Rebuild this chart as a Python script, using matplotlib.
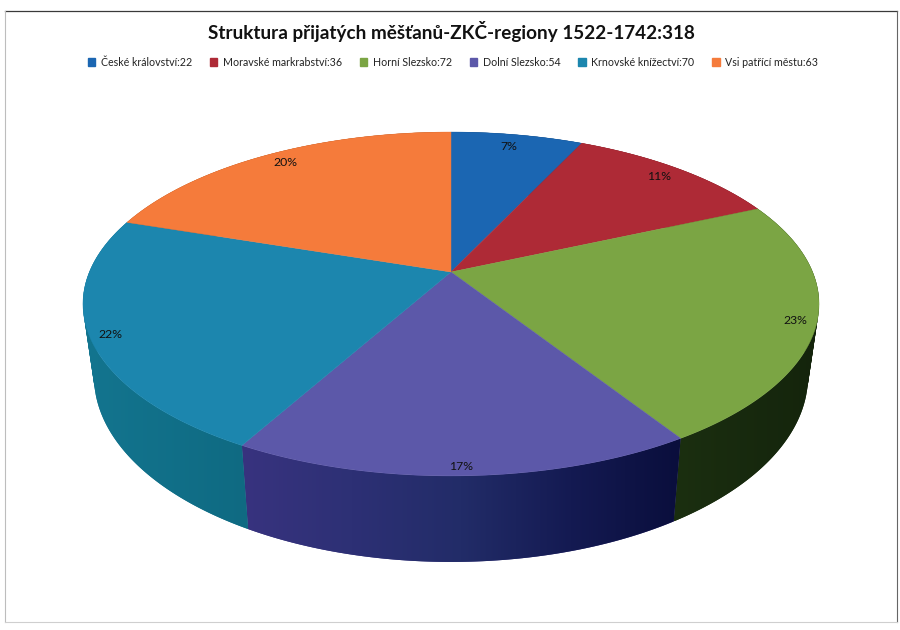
import numpy as np
import matplotlib
matplotlib.use("Agg")
import matplotlib.pyplot as plt
from matplotlib.colors import LinearSegmentedColormap
from matplotlib.patches import Patch, PathPatch
from matplotlib.path import Path

title = "Struktura přijatých měšťanů-ZKČ-regiony 1522-1742:318"
categories = ["České království", "Moravské markrabství", "Horní Slezsko",
              "Dolní Slezsko", "Krnovské knížectví", "Vsi patřící městu"]
values = [22, 36, 72, 54, 70, 63]

colors = ["#1B66B2", "#AE2A36", "#7BA544", "#5C58A9", "#1C86AE", "#F57B3B"]
side_colors = [["#0f3c6a", "#0f3c6a"], ["#6a1a20", "#6a1a20"], ["#1b2f10", "#14240c"],
               ["#38337f", "#2d3075", "#222c68", "#141a52", "#0a0e3c"],
               ["#13758f", "#0f6a82"], ["#a0501f", "#a0501f"]]
label_xy = [(509, 146), (659, 176), (795, 321), (461, 466), (110, 335), (285, 163)]

# projection of the pie disc to the page
CX, CY, R, A, K = 451, 272, 361.6, 166, 0.186
DEPTH, SHRINK = 70, 0.97


def top(theta):
    u, v = np.sin(theta), np.cos(theta)
    d = 1 + K * v
    return CX + R * u / d, CY - A * v / d


def bottom(theta):
    x, y = top(theta)
    return CX + (x - CX) * SHRINK, y + DEPTH / (1 + K * np.cos(theta))


def swept_path(ts):
    """Outline swept by the rim from the top face to the bottom face."""
    xt, yt = top(ts)
    xb, yb = bottom(ts)
    verts, codes = [], []
    for j in range(len(ts) - 1):
        q = np.array([[xt[j], yt[j]], [xt[j + 1], yt[j + 1]],
                      [xb[j + 1], yb[j + 1]], [xb[j], yb[j]]])
        area = np.sum(q[:, 0] * np.roll(q[:, 1], -1) - np.roll(q[:, 0], -1) * q[:, 1])
        if area < 0:
            q = q[::-1]
        verts += [*q, q[0]]
        codes += [Path.MOVETO, Path.LINETO, Path.LINETO, Path.LINETO, Path.CLOSEPOLY]
    return Path(np.array(verts), codes)


plt.rcParams["font.family"] = "Lato"
fig = plt.figure(figsize=(9, 6.3), dpi=100, facecolor="white")
ax = fig.add_axes([0, 0, 1, 1])
ax.set_xlim(0, 900)
ax.set_ylim(630, 0)
ax.axis("off")

# scanned page frame
ax.plot([5, 897], [10.5, 10.5], color="#3a3a3a", lw=0.9)
ax.plot([897, 897], [10.5, 622], color="#666666", lw=0.8)
ax.plot([5, 5], [10.5, 622], color="#bdbdbd", lw=0.8)
ax.plot([5, 897], [622, 622], color="#cfcfcf", lw=0.8)

fractions = np.array(values, dtype=float) / sum(values)
edges = np.concatenate([[0], np.cumsum(fractions)]) * 2 * np.pi

# side wall, a horizontal gradient clipped to each slice's rim
for i, stops in enumerate(side_colors):
    ts = np.linspace(edges[i], edges[i + 1], 160)
    path = swept_path(ts)
    patch = PathPatch(path, fc=stops[0], ec="none", lw=0, zorder=2)
    ax.add_patch(patch)
    xmin, ymin = path.vertices.min(axis=0)
    xmax, ymax = path.vertices.max(axis=0)
    cmap = LinearSegmentedColormap.from_list(f"side{i}", stops)
    im = ax.imshow(np.linspace(0, 1, 256)[None, :], cmap=cmap, aspect="auto", zorder=2.1,
                   extent=(xmin, xmax, ymax, ymin), interpolation="bilinear")
    im.set_clip_path(patch)
ax.set_xlim(0, 900)
ax.set_ylim(630, 0)

# top face
for i, col in enumerate(colors):
    ts = np.linspace(edges[i], edges[i + 1], 120)
    x, y = top(ts)
    ax.fill(np.r_[CX, x], np.r_[CY, y], color=col, lw=0.3, zorder=3)
    pct = round(100 * fractions[i])
    ax.text(*label_xy[i], f"{pct}%", ha="center", va="center", fontsize=8.8,
            color="#111111", zorder=4)

ax.text(451, 32, title, ha="center", va="center", fontsize=13.6, fontweight="bold",
        color="#111111")

handles = [Patch(color=c) for c in colors]
labels = [f"{c}:{v}" for c, v in zip(categories, values)]
ax.legend(handles, labels, ncol=6, frameon=False, fontsize=7.7, loc="center",
          bbox_to_anchor=(453 / 900, 1 - 62 / 630), handlelength=0.7, handleheight=0.7,
          handletextpad=0.5, columnspacing=1.68, labelcolor="#222222")

fig.savefig("out.png", dpi=100)
